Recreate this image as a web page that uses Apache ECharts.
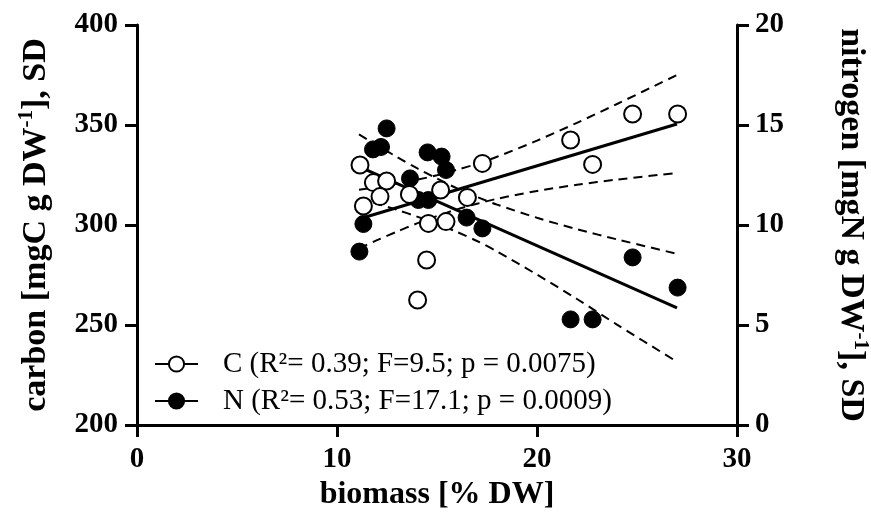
<!DOCTYPE html>
<html>
<head>
<meta charset="utf-8">
<script src="https://cdn.jsdelivr.net/npm/echarts@6/dist/echarts.min.js"></script>
<style>
  html, body { margin: 0; padding: 0; background: #fff; }
  #chart { width: 871px; height: 517px; }
</style>
</head>
<body>
<div id="chart"></div>
<script>
// Biomass (% DW) and carbon content (left axis, mgC g DW-1)
const biomassC = [11.15, 11.82, 12.48, 12.15, 11.32, 13.62, 15.18, 16.52, 17.27, 14.57, 15.45, 14.48, 14.03, 24.78, 27.03, 21.68, 22.78];
const carbon   = [330.0, 321.2, 322.0, 314.2, 309.5, 315.3, 317.5, 313.8, 330.8, 300.8, 301.7, 282.5, 262.5, 355.5, 355.5, 342.5, 330.3];

// Biomass (% DW) and nitrogen content (right axis, mgN g DW-1)
const biomassN = [12.48, 11.80, 12.20, 14.53, 15.23, 15.45, 13.65, 14.07, 14.57, 11.32, 16.48, 17.27, 11.12, 24.78, 27.03, 21.68, 22.78];
const nitrogen = [14.83, 13.78, 13.90, 13.63, 13.42, 12.75, 12.33, 11.25, 11.25, 10.05, 10.37, 9.83, 8.67, 8.38, 6.87, 5.28, 5.28];

// Regression lines
const fitX = [11.1, 27.0];
const carbonFit = [303.0, 350.5];
const nitrogenFit = [12.92, 5.86];

// 95% confidence bands
const bandX = [11.1, 12, 13, 14, 15, 16, 17, 18, 20, 22, 24, 27];
const carbonUpper   = [317.6, 318.9, 320.7, 322.6, 324.9, 327.6, 330.6, 334.1, 342.2, 351.1, 360.5, 375.0];
const carbonLower   = [288.4, 292.4, 296.7, 300.8, 304.5, 307.8, 310.6, 313.1, 317.0, 320.1, 322.7, 326.0];
const nitrogenUpper = [14.53, 13.99, 13.40, 12.84, 12.32, 11.83, 11.40, 11.02, 10.36, 9.79, 9.28, 8.56];
const nitrogenLower = [11.31, 11.06, 10.76, 10.42, 10.06, 9.65, 9.20, 8.68, 7.52, 6.30, 5.02, 3.16];

// Axis ticks
const xTicks = [0, 10, 20, 30];
const carbonTicks = [200, 250, 300, 350, 400];
const nitrogenTicks = [0, 5, 10, 15, 20];

const legendC = 'C (R\u00B2= 0.39; F=9.5; p = 0.0075)';
const legendN = 'N (R\u00B2= 0.53; F=17.1; p = 0.0009)';

const SERIF = '"Liberation Serif", "DejaVu Serif", serif';

const zip = (xs, ys) => xs.map((x, i) => [x, ys[i]]);

const axisLineStyle = { lineStyle: { color: '#000', width: 3 } };
const tickStyle = { show: true, length: 12, lineStyle: { color: '#000', width: 3 } };
const tickLabel = { color: '#000', fontFamily: SERIF, fontWeight: 'bold', fontSize: 29 };

const nameRich = {
  b: { fontFamily: SERIF, fontWeight: 'bold', fontSize: 34, color: '#000', lineHeight: 40 },
  s: { fontFamily: SERIF, fontWeight: 'bold', fontSize: 21, color: '#000', verticalAlign: 'top' }
};

function bandSeries(name, ys, axisIndex) {
  return {
    name: name, type: 'line', yAxisIndex: axisIndex,
    data: zip(bandX, ys), smooth: 0.3, symbol: 'none', silent: true,
    lineStyle: { color: '#000', width: 2, type: [9, 6] }, z: 2
  };
}

const chart = echarts.init(document.getElementById('chart'), null, { renderer: 'canvas' });

chart.setOption({
  animation: false,
  backgroundColor: '#fff',
  grid: { left: 137, right: 134, top: 25, bottom: 92, containLabel: false, outerBoundsMode: 'none' },
  xAxis: {
    type: 'value', min: xTicks[0], max: xTicks[xTicks.length - 1], interval: 10,
    axisLine: axisLineStyle, axisTick: tickStyle,
    axisLabel: Object.assign({ margin: 20 }, tickLabel),
    splitLine: { show: false },
    name: 'biomass [% DW]', nameLocation: 'middle', nameGap: 44,
    nameTextStyle: { fontFamily: SERIF, fontWeight: 'bold', fontSize: 32, color: '#000' }
  },
  yAxis: [
    {
      type: 'value', position: 'left', min: carbonTicks[0], max: carbonTicks[carbonTicks.length - 1], interval: 50,
      axisLine: Object.assign({ show: true }, axisLineStyle), axisTick: tickStyle,
      axisLabel: Object.assign({ margin: 19 }, tickLabel),
      splitLine: { show: false },
      name: '{b|carbon [mgC g DW}{s|-1}{b|], SD}', nameLocation: 'middle', nameRotate: 90, nameGap: 81,
      nameTextStyle: { rich: nameRich }
    },
    {
      type: 'value', position: 'right', min: nitrogenTicks[0], max: nitrogenTicks[nitrogenTicks.length - 1], interval: 5,
      axisLine: Object.assign({ show: true }, axisLineStyle), axisTick: tickStyle,
      axisLabel: Object.assign({ margin: 18 }, tickLabel),
      splitLine: { show: false },
      name: '{b|nitrogen [mgN g DW}{s|-1}{b|], SD}', nameLocation: 'middle', nameRotate: -90, nameGap: 94,
      nameTextStyle: { rich: nameRich }
    }
  ],
  legend: {
    orient: 'vertical', left: 149, top: 344, itemWidth: 43, itemHeight: 19, itemGap: 7,
    selectedMode: false,
    data: [legendC, legendN],
    textStyle: { fontFamily: SERIF, fontSize: 29, lineHeight: 30, color: '#000', padding: [0, 0, 0, 20] }
  },
  series: [
    bandSeries('C upper', carbonUpper, 0),
    bandSeries('C lower', carbonLower, 0),
    bandSeries('N upper', nitrogenUpper, 1),
    bandSeries('N lower', nitrogenLower, 1),
    {
      name: legendC, type: 'line', yAxisIndex: 0, data: zip(fitX, carbonFit),
      symbol: 'circle', symbolSize: 12, showSymbol: false, silent: true, z: 3,
      color: '#000',
      lineStyle: { color: '#000', width: 3 },
      itemStyle: { color: '#fff', borderColor: '#000', borderWidth: 2 }
    },
    {
      name: legendN, type: 'line', yAxisIndex: 1, data: zip(fitX, nitrogenFit),
      symbol: 'circle', symbolSize: 12, showSymbol: false, silent: true, z: 3,
      color: '#000',
      lineStyle: { color: '#000', width: 3 },
      itemStyle: { color: '#000', borderColor: '#000', borderWidth: 1 }
    },
    {
      name: 'N', type: 'scatter', yAxisIndex: 1, data: zip(biomassN, nitrogen),
      symbol: 'circle', symbolSize: 17, z: 4,
      itemStyle: { color: '#000', borderColor: '#000', borderWidth: 1, opacity: 1 }
    },
    {
      name: 'C', type: 'scatter', yAxisIndex: 0, data: zip(biomassC, carbon),
      symbol: 'circle', symbolSize: 17, z: 5,
      itemStyle: { color: '#fff', borderColor: '#000', borderWidth: 2, opacity: 1 }
    }
  ]
});
</script>
</body>
</html>
